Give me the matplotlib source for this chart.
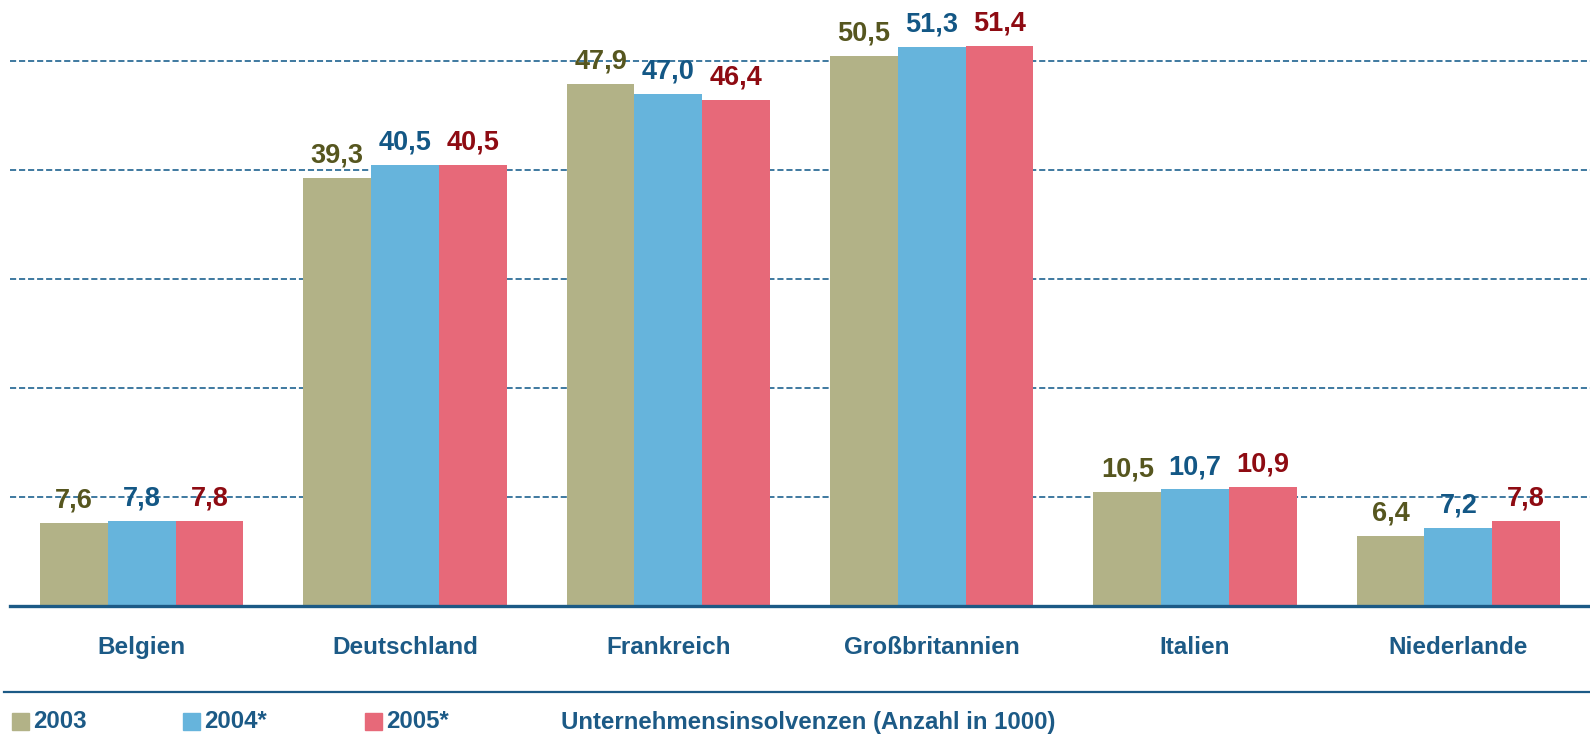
import numpy as np
import matplotlib
matplotlib.use('Agg')
import matplotlib.pyplot as plt

# Data (Unternehmensinsolvenzen, Anzahl in 1000)
countries = ['Belgien', 'Deutschland', 'Frankreich', 'Großbritannien', 'Italien', 'Niederlande']
years = ['2003', '2004*', '2005*']
v2003 = [7.6, 39.3, 47.9, 50.5, 10.5, 6.4]
v2004 = [7.8, 40.5, 47.0, 51.3, 10.7, 7.2]
v2005 = [7.8, 40.5, 46.4, 51.4, 10.9, 7.8]
title_text = 'Unternehmensinsolvenzen (Anzahl in 1000)'

bar_colors = ['#b2b287', '#66b4dc', '#e76979']
label_colors = ['#56561f', '#135785', '#8e0b12']
navy = '#1c5a86'

plt.rcParams['font.family'] = 'Liberation Sans'

fig = plt.figure(figsize=(15.9, 7.34), dpi=100)
ax = fig.add_axes([10 / 1590, 1 - 606 / 734, 1580 / 1590, 606 / 734])

x = np.arange(len(countries))
w = 0.257
series = [v2003, v2004, v2005]

for i, vals in enumerate(series):
    bars = ax.bar(x + (i - 1) * w, vals, w, color=bar_colors[i], zorder=3)
    for b, v in zip(bars, vals):
        ax.annotate(f'{v:.1f}'.replace('.', ','),
                    (b.get_x() + b.get_width() / 2, b.get_height()),
                    xytext=(0, 11), textcoords='offset points',
                    ha='center', va='baseline', fontsize=19.5,
                    fontweight='bold', color=label_colors[i], zorder=4)

# dashed grid lines
for g in [10, 20, 30, 40, 50]:
    ax.axhline(g, color='#2f6e98', lw=1.3, dashes=(3.4, 1.6), zorder=1)
ax.axhline(0, color=navy, lw=2.4, zorder=5, clip_on=False)

ax.set_xlim(-0.5, 5.5)
ax.set_ylim(0, 55.6)
ax.set_yticks([])
ax.set_xticks([])
for s in ax.spines.values():
    s.set_visible(False)

# category labels
for xi, c in zip(x, countries):
    ax.text(xi, -3.8, c, ha='center', va='center', fontsize=17.5,
            fontweight='bold', color=navy, clip_on=False)

# separator line and legend row
fig.add_artist(plt.Line2D([4 / 1590, 1], [1 - 692 / 734] * 2,
                          transform=fig.transFigure, color=navy, lw=1.6))

legend_y = 1 - 722 / 734
sq_x = [12, 183, 365]
for i, yr in enumerate(years):
    fig.add_artist(plt.Rectangle((sq_x[i] / 1590, 1 - 730 / 734), 17 / 1590, 17 / 734,
                                 transform=fig.transFigure, color=bar_colors[i]))
    fig.text((sq_x[i] + 21) / 1590, legend_y, yr, ha='left', va='center',
             fontsize=17.3, fontweight='bold', color=navy)
fig.text(561 / 1590, legend_y, title_text, ha='left', va='center',
         fontsize=17.3, fontweight='bold', color=navy)

fig.savefig('out.png', dpi=100)
plt.close()
